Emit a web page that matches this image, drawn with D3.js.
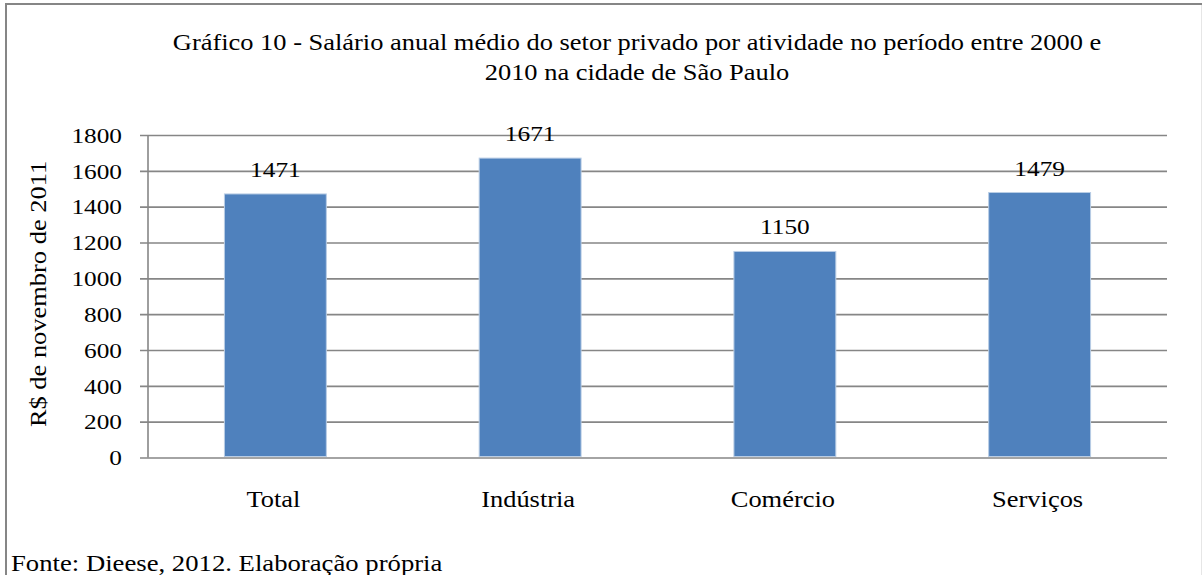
<!DOCTYPE html>
<html lang="pt">

<head>
    <meta charset="UTF-8">
    <title>Gráfico 10</title>
    <script src="https://d3js.org/d3.v7.min.js"></script>
    <style>
        body {
            margin: 0;
            overflow: hidden;
            background: #fff;
        }

        text {
            font-family: "Liberation Serif", "Times New Roman", serif;
            fill: #000;
        }
    </style>
</head>

<body>
    <div id="chart"></div>
</body>

<script>
    const categories = ["Total", "Indústria", "Comércio", "Serviços"];
    const values = [1471, 1671, 1150, 1479];
    const yTicks = [0, 200, 400, 600, 800, 1000, 1200, 1400, 1600, 1800];
    const titleLines = ["Gráfico 10 - Salário anual médio do setor privado por atividade no período entre 2000 e",
        "2010 na cidade de São Paulo"];
    const yLabel = "R$ de novembro de 2011";
    const source = "Fonte: Dieese, 2012. Elaboração própria";

    const width = 1202;
    const height = 575;
    const margin = { left: 148, right: 1167, top: 135, bottom: 457.5 };
    const fs = 22;
    const fsBig = 23;
    const sx = 1.15;

    const svg = d3.select("#chart")
        .append("svg")
        .attr("width", width)
        .attr("height", height);

    // outer frame (cut at right and bottom like the original)
    svg.append("rect")
        .attr("x", 6).attr("y", 4)
        .attr("width", 1250).attr("height", 650)
        .attr("fill", "none")
        .attr("stroke", "#868686")
        .attr("stroke-width", 2);
    svg.append("line")
        .attr("x1", 1201.5).attr("x2", 1201.5)
        .attr("y1", 5).attr("y2", height)
        .attr("stroke", "#e6e6e6");

    const x = d3.scaleBand()
        .domain(categories)
        .range([margin.left, margin.right])
        .paddingInner(0.6)
        .paddingOuter(0.3);

    const y = d3.scaleLinear()
        .domain([0, 1800])
        .range([margin.bottom, margin.top]);

    // gridlines + ticks
    const yAxis = d3.axisLeft(y)
        .tickValues(yTicks)
        .tickSize(-(margin.right - margin.left))
        .tickFormat(d3.format("d"));

    const ga = svg.append("g")
        .attr("transform", `translate(${margin.left},0)`)
        .call(yAxis);
    ga.select(".domain").remove();
    ga.selectAll(".tick line")
        .attr("x1", -8)
        .attr("stroke", "#868686")
        .attr("stroke-width", 1.6);
    ga.selectAll(".tick text")
        .attr("font-size", fs)
        .attr("fill", "#000")
        .attr("x", null)
        .attr("dy", "0.33em")
        .attr("transform", `translate(-26,0) scale(${sx},1)`);

    svg.append("line")
        .attr("x1", margin.left).attr("x2", margin.left)
        .attr("y1", margin.top).attr("y2", margin.bottom)
        .attr("stroke", "#868686")
        .attr("stroke-width", 1.6);

    // bars
    svg.selectAll("rect.bar")
        .data(values)
        .enter()
        .append("rect")
        .attr("class", "bar")
        .attr("x", (d, i) => x(categories[i]))
        .attr("y", d => y(d))
        .attr("width", x.bandwidth())
        .attr("height", d => y(0) - y(d) - 1)
        .attr("fill", "#4F81BD")
        .attr("stroke", "#b9cde5")
        .attr("stroke-width", 1);

    // value labels
    svg.selectAll("text.val")
        .data(values)
        .enter()
        .append("text")
        .attr("class", "val")
        .attr("text-anchor", "middle")
        .attr("font-size", fs)
        .attr("transform", (d, i) => `translate(${x(categories[i]) + x.bandwidth() / 2},${y(d) - 17}) scale(${sx},1)`)
        .text(d => d);

    // category labels
    svg.selectAll("text.cat")
        .data(categories)
        .enter()
        .append("text")
        .attr("class", "cat")
        .attr("text-anchor", "middle")
        .attr("font-size", fsBig)
        .attr("transform", d => `translate(${x(d) + x.bandwidth() / 2 - 2},507) scale(${sx},1)`)
        .text(d => d);

    // title
    svg.selectAll("text.title")
        .data(titleLines)
        .enter()
        .append("text")
        .attr("class", "title")
        .attr("text-anchor", "middle")
        .attr("font-size", fsBig)
        .attr("transform", (d, i) => `translate(637,${50 + i * 30}) scale(${sx},1)`)
        .text(d => d);

    // y label
    svg.append("text")
        .attr("text-anchor", "middle")
        .attr("font-size", fsBig)
        .attr("transform", `translate(46,294) rotate(-90) scale(${sx},1)`)
        .text(yLabel);

    // source
    svg.append("text")
        .attr("font-size", fsBig)
        .attr("transform", `translate(11,571) scale(${sx * 1.01},1)`)
        .text(source);
</script>

</html>
